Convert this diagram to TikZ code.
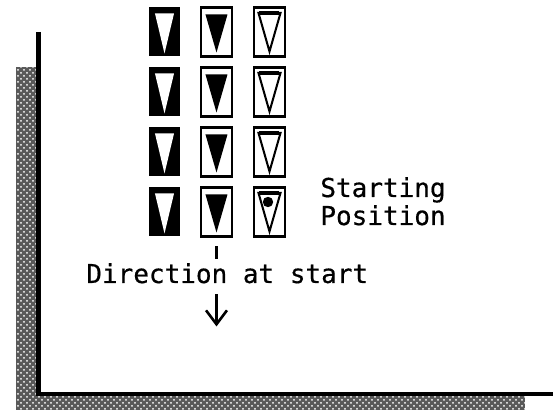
\documentclass[tikz,border=0pt]{standalone}
\usepackage{fontspec}
\setmonofont[FakeBold=0.5]{DejaVu Sans Mono}
\usetikzlibrary{arrows.meta,positioning,calc,patterns}

\begin{document}
\begin{tikzpicture}[
  x=0.5pt, y=-0.5pt,
  cell/.style={minimum width=15.5pt, minimum height=24.5pt, inner sep=0pt, outer sep=0pt},
  darkcell/.style={cell, fill=black},
  lightcell/.style={cell, draw=black, line width=1.4pt, fill=white},
  shade/.style={fill=black!65, postaction={pattern=crosshatch dots, pattern color=white}},
  lbl/.style={font=\ttfamily\fontsize{13pt}{14pt}\selectfont, align=left, inner sep=0pt},
  arr/.style={-{Straight Barb[length=7pt,width=10.5pt]}, line width=1.3pt}
]
\useasboundingbox (0,0) rectangle (559,412);

% frame
\fill[shade] (16,67) rectangle (36,410);
\fill[shade] (16,396) rectangle (525,410);
\draw[line width=2.3pt] (38.5,32) -- (38.5,394) -- (553,394);

% the twelve cells
\foreach \r/\y in {1/32,2/92,3/152,4/212}{
  \node[darkcell] (a\r) at (164.5,\y) {};
  \node[lightcell] (b\r) at (216.5,\y) {};
  \node[lightcell] (c\r) at (269.5,\y) {};
  \fill[white] ($(a\r.north)+(-9.5,6)$) -- ($(a\r.north)+(9.5,6)$) -- ($(a\r.south)+(0,-3)$) -- cycle;
  \fill[black] ($(b\r.north)+(-11,7)$) -- ($(b\r.north)+(11,7)$) -- ($(b\r.south)+(0,-4)$) -- cycle;
  \draw[line width=1pt, line join=miter] ($(c\r.north)+(-11,5.5)$) -- ($(c\r.north)+(11,5.5)$) -- ($(c\r.south)+(0,-5)$) -- cycle;
  \draw[line width=1.6pt] ($(c\r.north)+(-10,5.5)$) -- ($(c\r.north)+(10,5.5)$);
}
\fill ($(c4.center)+(-1.5,-10)$) circle (2.6pt);

% labels
\node[lbl, anchor=base west] (pos) at (320,225) {Starting\\Position};
\node[lbl, anchor=base west] (dir) at (86,283) {Direction at start};

% direction marks
\draw[line width=1.4pt] ($(b4.south)+(0,10)$) -- ++(0,13);
\coordinate (tip) at ($(b4.south)+(0,90)$);
\draw[arr] ($(b4.south)+(0,58)$) -- (tip);
\end{tikzpicture}
\end{document}
